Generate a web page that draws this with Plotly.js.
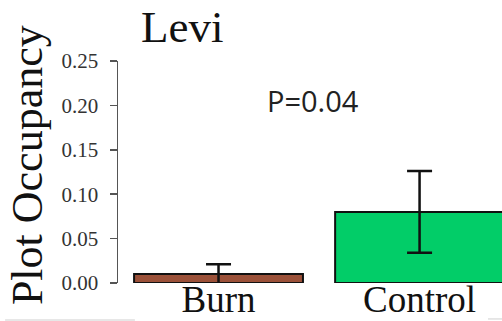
<!DOCTYPE html>
<html>
<head>
<meta charset="utf-8">
<script src="https://cdn.plot.ly/plotly-3.0.1.min.js"></script>
<style>
  html, body { margin: 0; padding: 0; background: #fff; }
  #chart { width: 502px; height: 321px; }
</style>
</head>
<body>
<div id="chart"></div>
<script>
// Mean plot occupancy per treatment, with standard error
const categories = ['Burn', 'Control'];
const occupancy = [0.01, 0.08];
const stdError = [0.011, 0.046];
const barColors = ['#9b5139', '#02cd68'];
const yTicks = [0, 0.05, 0.10, 0.15, 0.20, 0.25];
const yTickLabels = ['0.00', '0.05', '0.10', '0.15', '0.20', '0.25'];
const yTitle = 'Plot Occupancy';
const pValueText = 'P=0.04';

const serif = 'Liberation Serif, Times New Roman, serif';

const trace = {
  type: 'bar',
  x: categories,
  y: occupancy,
  width: 0.84,
  marker: { color: barColors, line: { color: '#111', width: 2 } },
  error_y: { type: 'data', array: stdError, visible: true, color: '#111', thickness: 2.5, width: 12.5 },
  hoverinfo: 'skip'
};

const layout = {
  width: 502,
  height: 321,
  margin: { l: 118, r: 0, t: 61, b: 38, pad: 0 },
  paper_bgcolor: '#fff',
  plot_bgcolor: '#fff',
  showlegend: false,
  title: {
    text: 'Levi',
    font: { family: serif, size: 45, color: '#111' },
    x: 141 / 502, xanchor: 'left', xref: 'container',
    y: 1 - 26 / 321, yanchor: 'middle', yref: 'container'
  },
  xaxis: {
    type: 'category',
    range: [-0.5, 1.41],
    showline: false,
    showgrid: false,
    zeroline: false,
    ticks: '',
    ticklabelstandoff: -9,
    tickfont: { family: serif, size: 37, color: '#111' },
    fixedrange: true
  },
  yaxis: {
    range: [0, 0.25],
    tickvals: yTicks,
    ticktext: yTickLabels,
    ticks: 'outside',
    ticklen: 7,
    tickwidth: 1.5,
    tickcolor: '#555',
    showline: true,
    linecolor: '#555',
    linewidth: 1.5,
    showgrid: false,
    zeroline: false,
    ticklabelstandoff: 7,
    tickfont: { family: serif, size: 21, color: '#333' },
    fixedrange: true
  },
  annotations: [
    {
      text: yTitle,
      xref: 'paper', yref: 'paper',
      x: -0.235, y: 0.53,
      xanchor: 'center', yanchor: 'middle',
      textangle: -90,
      showarrow: false,
      font: { family: serif, size: 44, color: '#111' }
    },
    {
      text: pValueText,
      xref: 'paper', yref: 'paper',
      x: 0.508, y: 0.82,
      xanchor: 'center', yanchor: 'middle',
      showarrow: false,
      font: { family: 'Open Sans, sans-serif', size: 29, color: '#222' }
    }
  ],
  shapes: [
    { type: 'line', xref: 'paper', yref: 'paper', x0: -0.294, x1: 0.044, y0: -0.1667, y1: -0.1667, line: { color: '#cfcfcf', width: 1 } },
    { type: 'line', xref: 'paper', yref: 'paper', x0: 0.9635, x1: 1.0, y0: -0.162, y1: -0.162, line: { color: '#cfcfcf', width: 1 } }
  ]
};

Plotly.newPlot('chart', [trace], layout, { displayModeBar: false, staticPlot: true });
</script>
</body>
</html>
